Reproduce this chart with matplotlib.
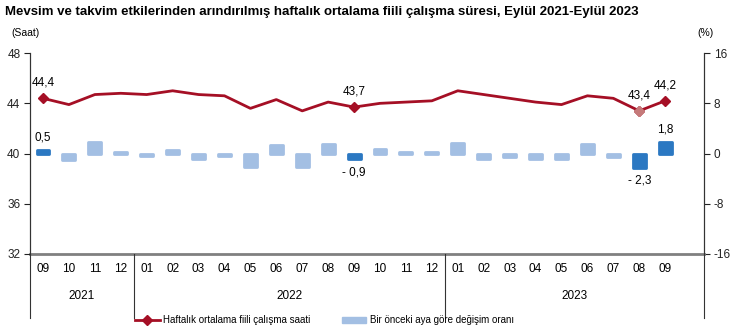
import matplotlib
matplotlib.use("Agg")
import matplotlib.pyplot as plt
from matplotlib.lines import Line2D
from matplotlib.patches import Patch
import matplotlib.transforms as mtransforms

plt.rcParams['font.family'] = ['Liberation Sans', 'DejaVu Sans']
plt.rcParams['axes.unicode_minus'] = False

# --- data ---
months = ["09", "10", "11", "12",
          "01", "02", "03", "04", "05", "06", "07", "08", "09", "10", "11", "12",
          "01", "02", "03", "04", "05", "06", "07", "08", "09"]
years = ["2021", "2022", "2023"]
year_counts = [4, 12, 9]
hours = [44.4, 43.9, 44.7, 44.8, 44.7, 45.0, 44.7, 44.6, 43.6, 44.3, 43.4, 44.1,
         43.7, 44.0, 44.1, 44.2, 45.0, 44.7, 44.4, 44.1, 43.9, 44.6, 44.4, 43.4, 44.2]
change = [0.5, -1.1, 1.8, 0.2, -0.4, 0.6, -0.8, -0.4, -2.1, 1.4, -2.1, 1.6,
          -0.9, 0.7, 0.2, 0.2, 1.7, -0.8, -0.5, -0.8, -0.8, 1.5, -0.5, -2.3, 1.8]
highlight = [0, 12, 23, 24]          # dark-blue bars
hour_labels = {0: "44,4", 12: "43,7", 23: "43,4", 24: "44,2"}
change_labels = {0: "0,5", 12: "- 0,9", 23: "- 2,3", 24: "1,8"}

RED = "#a50f25"
LIGHT = "#a3bfe3"
DARK = "#2b78c2"

fig = plt.figure(figsize=(7.33, 3.32), dpi=100)
ax = fig.add_axes([0.041, 0.235, 0.9195, 0.605])
ax2 = ax.twinx()

x = list(range(len(hours)))

# bars on the right (%) axis
cols = [DARK if i in highlight else LIGHT for i in x]
ax2.bar(x, change, width=0.5, color=cols, edgecolor=cols, linewidth=2,
        joinstyle="round", zorder=2)
for i, s in change_labels.items():
    v = change[i]
    off = 5 if v > 0 else -5
    ax2.annotate(s, (i, v), xytext=(0, off), textcoords="offset points",
                 ha="center", va="bottom" if v > 0 else "top", fontsize=8.5)

# line on the left (hours) axis, drawn above the bars
ax.set_zorder(ax2.get_zorder() + 1)
ax.patch.set_visible(False)
ax.plot(x, hours, color=RED, lw=2, zorder=3)
mk = [i for i in hour_labels]
ax.plot(mk, [hours[i] for i in mk], ls="none", marker="D", ms=5,
        color=RED, zorder=4)
ax.plot([23], [hours[23]], ls="none", marker="D", ms=5, color="#c57a7a", zorder=5)
for i, s in hour_labels.items():
    ax.annotate(s, (i, hours[i]), xytext=(0, 7), textcoords="offset points",
                ha="center", va="bottom", fontsize=8.5)

ax.set_xlim(-0.5, 25.5)
ax.set_ylim(32, 48)
ax.set_yticks([32, 36, 40, 44, 48])
ax2.set_ylim(-16, 16)
ax2.set_yticks([-16, -8, 0, 8, 16])
ax.set_xticks([])
for a in (ax, ax2):
    a.tick_params(axis="y", length=4, width=0.8, labelsize=8.5, pad=3, colors="#222222")
    a.spines["top"].set_visible(False)
    a.spines["bottom"].set_visible(False)
    a.spines["left"].set_color("#333333")
    a.spines["right"].set_color("#333333")
    a.spines["left"].set_linewidth(0.8)
    a.spines["right"].set_linewidth(0.8)
ax.axhline(32, color="#808080", lw=2, zorder=1, clip_on=False)

# month / year labels under the axis
trans = mtransforms.blended_transform_factory(ax.transData, ax.transAxes)
for i, m in enumerate(months):
    ax.text(i, -0.075, m, transform=trans, ha="center", va="center", fontsize=8.5)
start = 0
bounds = [-0.5]
for yname, n in zip(years, year_counts):
    end = start + n
    bounds.append(end - 0.5)
    mid = (start + end - 1) / 2
    if yname == "2023":
        mid = (start + 25.5 - 0.5) / 2
    ax.text(mid, -0.21, yname, transform=trans, ha="center", va="center", fontsize=8.5)
    start = end
bounds[-1] = 25.5
for b in bounds:
    ax.add_line(Line2D([b, b], [0, -0.32], transform=trans, color="#333333",
                       lw=0.8, clip_on=False))

fig.text(0.007, 0.965, "Mevsim ve takvim etkilerinden arındırılmış haftalık ortalama fiili "
         "çalışma süresi, Eylül 2021-Eylül 2023", fontsize=9.5, fontweight="bold",
         ha="left", va="center")
fig.text(0.015, 0.9, "(Saat)", fontsize=7.5, ha="left", va="center")
fig.text(0.951, 0.9, "(%)", fontsize=7.5, ha="left", va="center")

handles = [Line2D([], [], color=RED, lw=2, marker="D", ms=5),
           Patch(facecolor=LIGHT, edgecolor=LIGHT)]
fig.legend(handles, ["Haftalık ortalama fiili çalışma saati",
                     "Bir önceki aya göre değişim oranı"],
           loc="center", bbox_to_anchor=(0.443, 0.035), ncol=2, frameon=False,
           fontsize=7, columnspacing=3.2, handlelength=2.5, handletextpad=0.4)

fig.savefig("out.png", dpi=100)
